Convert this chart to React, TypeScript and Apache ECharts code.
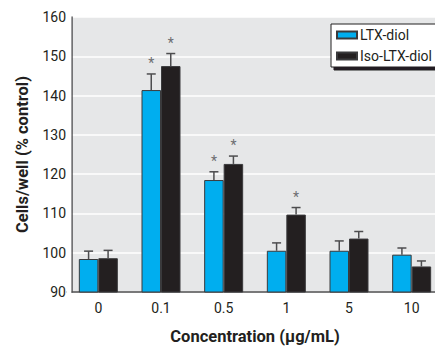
import React, { useEffect, useRef } from "react";
import * as echarts from "echarts";

const categories = ["0", "0.1", "0.5", "1", "5", "10"];
const ltxDiol = [98.4, 141.4, 118.5, 100.5, 100.5, 99.5];
const isoLtxDiol = [98.6, 147.5, 122.6, 109.7, 103.6, 96.5];
const ltxErr = [2.0, 4.1, 2.1, 2.0, 2.5, 1.7];
const isoErr = [2.0, 3.2, 2.0, 1.8, 1.8, 1.4];
const ltxSig = [0, 1, 1, 0, 0, 0];
const isoSig = [0, 1, 1, 1, 0, 0];
const yTicks = { min: 90, max: 160, interval: 10 };

const FONT = "'Liberation Sans Narrow', Roboto, 'Liberation Sans', sans-serif";
const TEXT = "#231F20";
const BAR_W = 19.5;

function errSeries(name: string, vals: number[], errs: number[], sig: number[], offset: number) {
  return {
    type: "custom",
    name: name + "-err",
    z: 5,
    silent: true,
    data: vals.map((v, i) => [i, v, errs[i], sig[i]]),
    encode: { x: 0, y: 1 },
    renderItem: (params: any, api: any) => {
      const i = api.value(0);
      const v = api.value(1);
      const e = api.value(2);
      const s = api.value(3);
      const base = api.coord([i, v]);
      const top = api.coord([i, v + e]);
      const x = base[0] + offset;
      const style = { stroke: "#4d4d4f", lineWidth: 1.5 };
      const children: any[] = [
        { type: "line", shape: { x1: x, y1: base[1], x2: x, y2: top[1] }, style },
        { type: "line", shape: { x1: x - 4.5, y1: top[1], x2: x + 4.5, y2: top[1] }, style },
      ];
      if (s) {
        children.push({
          type: "text",
          x: x,
          y: top[1] - 11,
          style: {
            text: "*",
            fill: "#6d6e71",
            fontSize: 14,
            fontFamily: FONT,
            align: "center",
            verticalAlign: "middle",
          },
        });
      }
      return { type: "group", children };
    },
  };
}

export default function App() {
  const ref = useRef<HTMLDivElement>(null);
  useEffect(() => {
    if (!ref.current) return;
    const chart = echarts.init(ref.current, null, { renderer: "svg" });
    chart.setOption({
      animation: false,
      textStyle: { fontFamily: FONT, color: TEXT },
      grid: {
        left: 67,
        top: 17,
        width: 395,
        height: 276,
        show: true,
        backgroundColor: "#E6E7E8",
        borderWidth: 0,
      },
      legend: {
        left: 331,
        top: 24,
        orient: "vertical",
        data: ["LTX-diol", "Iso-LTX-diol"],
        icon: "rect",
        itemWidth: 20,
        itemHeight: 7,
        itemGap: 7,
        padding: [4, 4, 4, 5],
        backgroundColor: "#ffffff",
        borderColor: "#231F20",
        borderWidth: 1,
        borderRadius: 0,
        shadowColor: "#231F20",
        shadowOffsetX: 3,
        shadowOffsetY: 3,
        shadowBlur: 0,
        textStyle: { fontFamily: FONT, fontSize: 14, color: TEXT, padding: [0, 0, 0, -2] },
      },
      xAxis: {
        type: "category",
        data: categories,
        name: "Concentration (\u03bcg/mL)",
        nameLocation: "middle",
        nameGap: 36,
        nameTextStyle: { fontFamily: FONT, fontSize: 16.5, fontWeight: "bold", color: TEXT },
        axisLine: { lineStyle: { color: "#4d4d4f", width: 1.5 } },
        axisTick: { show: false },
        axisLabel: { fontFamily: FONT, fontSize: 14, color: TEXT, margin: 9 },
        splitLine: { show: false },
      },
      yAxis: {
        type: "value",
        min: yTicks.min,
        max: yTicks.max,
        interval: yTicks.interval,
        offset: -5,
        name: "Cells/well (% control)",
        nameLocation: "middle",
        nameRotate: 90,
        nameGap: 31,
        nameTextStyle: { fontFamily: FONT, fontSize: 16.5, fontWeight: "bold", color: TEXT },
        axisLine: { show: true, lineStyle: { color: "#4d4d4f", width: 1.5 } },
        axisTick: { show: false },
        axisLabel: { fontFamily: FONT, fontSize: 14, color: TEXT, margin: 6 },
        splitLine: { show: true, lineStyle: { color: "#ffffff", width: 1.5 } },
      },
      graphic: [
        {
          type: "rect",
          z: 1,
          shape: { x: 66.5, y: 16, width: 4.8, height: 278 },
          style: { fill: "#ffffff" },
          silent: true,
        },
      ],
      series: [
        {
          type: "bar",
          name: "LTX-diol",
          data: ltxDiol,
          barWidth: BAR_W,
          barGap: "0%",
          z: 3,
          itemStyle: { color: "#00AEEF", borderColor: "#3a3a3c", borderWidth: 1 },
        },
        {
          type: "bar",
          name: "Iso-LTX-diol",
          data: isoLtxDiol,
          barWidth: BAR_W,
          barGap: "0%",
          z: 3,
          itemStyle: { color: "#231F20", borderColor: "#3a3a3c", borderWidth: 1 },
        },
        errSeries("LTX-diol", ltxDiol, ltxErr, ltxSig, -BAR_W / 2),
        errSeries("Iso-LTX-diol", isoLtxDiol, isoErr, isoSig, BAR_W / 2),
      ],
    });
    return () => chart.dispose();
  }, []);
  return <div ref={ref} style={{ width: 443, height: 350, marginLeft: -8, marginTop: -8 }} />;
}
